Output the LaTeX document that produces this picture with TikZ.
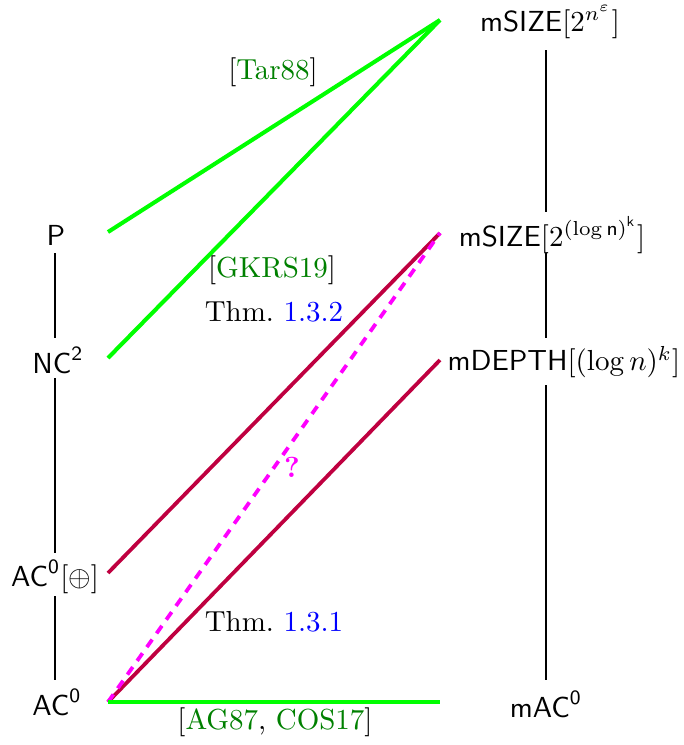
\documentclass[tikz,border=0pt]{standalone}
\usepackage{xcolor}
\definecolor{citegreen}{rgb}{0,0.5,0}
\definecolor{linegreen}{rgb}{0,1,0}
\definecolor{refblue}{rgb}{0,0,1}
\definecolor{qmagenta}{rgb}{1,0,1}
\definecolor{crimsonline}{rgb}{0.75,0,0.25}
\begin{document}
\begin{tikzpicture}[x=0.345pt,y=-0.345pt,
  cls/.style={inner sep=0pt, font=\sffamily},
  vline/.style={draw=black, line width=0.7pt},
  greenline/.style={draw=linegreen, line width=1.4pt},
  purpleline/.style={draw=crimsonline, line width=1.3pt},
  qline/.style={draw=qmagenta, line width=1.3pt, dash pattern=on 3.2pt off 2.6pt},
  lbl/.style={inner sep=0pt}
]
\useasboundingbox (0,0) rectangle (684,745);
% left column
\node[cls] (P)   at (56,235) {P};
\node[cls] (NC)  at (58,360) {$\mathsf{NC}^{\mathsf{2}}$};
\node[cls] (ACp) at (55,577) {$\mathsf{AC}^{\mathsf{0}}[\oplus]$};
\node[cls] (AC)  at (57,702) {$\mathsf{AC}^{\mathsf{0}}$};
% right column
\node[cls] (S1) at (550,22)  {mSIZE$[2^{n^{\varepsilon}}]$};
\node[cls] (S2) at (552,235) {mSIZE$[2^{(\log \mathsf{n})^{\mathsf{k}}}]$};
\node[cls] (D)  at (564,362) {mDEPTH$[(\log n)^k]$};
\node[cls] (M)  at (546,704) {$\mathsf{mAC}^{\mathsf{0}}$};
% vertical connectors
\coordinate (l1a) at (55,253); \coordinate (l1b) at (55,338);
\coordinate (l2a) at (55,378); \coordinate (l2b) at (55,553);
\coordinate (l3a) at (55,596); \coordinate (l3b) at (55,680);
\draw[vline] (l1a) -- (l1b);
\draw[vline] (l2a) -- (l2b);
\draw[vline] (l3a) -- (l3b);
\coordinate (r1a) at (546,50);  \coordinate (r1b) at (546,212);
\coordinate (r2a) at (546,253); \coordinate (r2b) at (546,338);
\coordinate (r3a) at (546,385); \coordinate (r3b) at (546,680);
\draw[vline] (r1a) -- (r1b);
\draw[vline] (r2a) -- (r2b);
\draw[vline] (r3a) -- (r3b);
% connector ends
\coordinate (Pe)  at (108,232);
\coordinate (NCe) at (108,358);
\coordinate (ACpe) at (108,573);
\coordinate (ACe) at (108,702);
\coordinate (S1w) at (440,20);
\coordinate (S2w) at (440,233);
\coordinate (Dw)  at (440,360);
\coordinate (Mw)  at (440,702);
\draw[greenline] (Pe) -- (S1w);
\draw[greenline] (NCe) -- (S1w);
\draw[purpleline] (ACpe) -- (S2w);
\draw[purpleline] (ACe) -- (Dw);
\draw[qline] (ACe) -- (S2w);
\draw[greenline] (ACe) -- (Mw);
% labels
\node[lbl] (t1) at (273,72)  {[\textcolor{citegreen}{Tar88}]};
\node[lbl] (t2) at (272,270) {[\textcolor{citegreen}{GKRS19}]};
\node[lbl] (t3) at (274,312) {Thm.~\textcolor{refblue}{1.3.2}};
\node[lbl] (t4) at (292,467) {\textcolor{qmagenta}{\textbf{?}}};
\node[lbl] (t5) at (274,622) {Thm.~\textcolor{refblue}{1.3.1}};
\node[lbl] (t6) at (275,722) {[\textcolor{citegreen}{AG87}, \textcolor{citegreen}{COS17}]};
\end{tikzpicture}
\end{document}
